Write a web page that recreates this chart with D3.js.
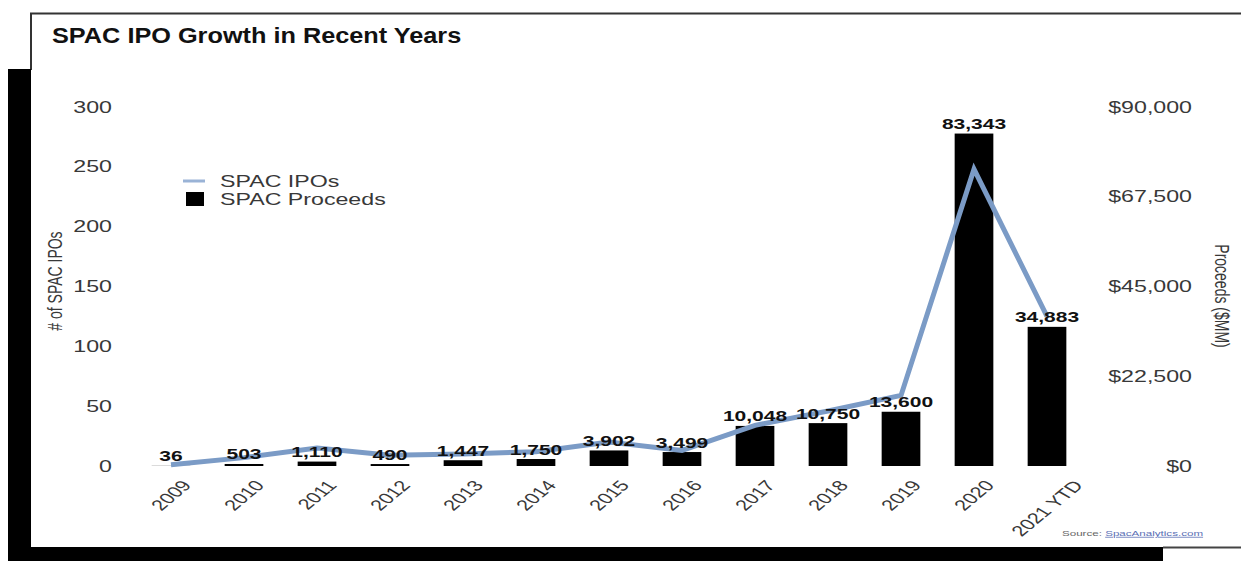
<!DOCTYPE html>
<html>
<head>
<meta charset="utf-8">
<script src="https://cdn.jsdelivr.net/npm/d3@7"></script>
<style>
  html, body { margin: 0; padding: 0; background: #fff; }
  svg { display: block; font-family: "Liberation Sans", Arial, Helvetica, sans-serif; }
</style>
</head>
<body>
<svg id="chart" width="1241" height="561"></svg>
<script>
// ---- data ----
const categories = ["2009","2010","2011","2012","2013","2014","2015","2016","2017","2018","2019","2020","2021 YTD"];
const spacIPOs = [1, 7, 15, 9, 10, 12, 20, 13, 34, 46, 59, 248, 125];
const spacProceeds = [36, 503, 1110, 490, 1447, 1750, 3902, 3499, 10048, 10750, 13600, 83343, 34883];
const leftTicks = [0, 50, 100, 150, 200, 250, 300];
const rightTicks = [0, 22500, 45000, 67500, 90000];
const titleText = "SPAC IPO Growth in Recent Years";
const leftTitle = "# of SPAC IPOs";
const rightTitle = "Proceeds ($MM)";
const legendLabels = ["SPAC IPOs", "SPAC Proceeds"];

// ---- layout ----
const SX = 1.45;          // horizontal text stretch seen in the reference
const svg = d3.select("#chart");
const textColor = "#383838";
const lineColor = "#7b9bc6";

// frame
svg.append("rect").attr("x", 0).attr("y", 0).attr("width", 1241).attr("height", 561).attr("fill", "#fff");
svg.append("path").attr("d", "M31,70 V13.5 H1241").attr("fill", "none").attr("stroke", "#333").attr("stroke-width", 2);
svg.append("rect").attr("x", 8).attr("y", 69).attr("width", 23).attr("height", 492).attr("fill", "#000");
svg.append("rect").attr("x", 8).attr("y", 547).attr("width", 1155).attr("height", 14).attr("fill", "#000");
svg.append("line").attr("x1", 1163).attr("x2", 1241).attr("y1", 547.5).attr("y2", 547.5).attr("stroke", "#444").attr("stroke-width", 2);

// scales
const x = d3.scaleBand().domain(categories).range([134.5, 1083.5]).paddingInner(0.47).paddingOuter(0.235);
const yL = d3.scaleLinear().domain([0, 300]).range([466, 107]);
const yR = d3.scaleLinear().domain([0, 90000]).range([466, 107]);
const bw = x.bandwidth();

// title
svg.append("text")
  .attr("transform", "translate(52,43) scale(1.15,1)")
  .attr("font-size", 22).attr("font-weight", "bold").attr("fill", "#111")
  .text(titleText);

// left axis
const gL = svg.append("g").attr("transform", "translate(112,0)")
  .call(d3.axisLeft(yL).tickValues(leftTicks).tickSize(0).tickPadding(0));
gL.select(".domain").remove();
gL.selectAll("text")
  .attr("x", 0).attr("font-size", 16).attr("fill", textColor).attr("font-family", null)
  .attr("transform", `scale(${SX},1)`);

// right axis
const gR = svg.append("g").attr("transform", "translate(1192,0)")
  .call(d3.axisLeft(yR).tickValues(rightTicks).tickSize(0).tickPadding(0).tickFormat(d => "$" + d3.format(",")(d)));
gR.select(".domain").remove();
gR.selectAll("text")
  .attr("x", 0).attr("font-size", 16).attr("fill", textColor).attr("font-family", null)
  .attr("transform", `scale(${SX},1)`);

// axis titles
svg.append("text")
  .attr("transform", `translate(55,281) scale(${SX},1) rotate(-90)`)
  .attr("text-anchor", "middle").attr("dominant-baseline", "central")
  .attr("font-size", 14).attr("fill", textColor).text(leftTitle);
svg.append("text")
  .attr("transform", `translate(1222,296) scale(${SX},1) rotate(90)`)
  .attr("text-anchor", "middle").attr("dominant-baseline", "central")
  .attr("font-size", 14).attr("fill", textColor).text(rightTitle);

// bars
svg.append("g").selectAll("rect")
  .data(categories.map((c, i) => ({ c, v: spacProceeds[i] })))
  .join("rect")
  .attr("x", d => x(d.c)).attr("width", bw)
  .attr("y", d => yR(d.v)).attr("height", d => yR(0) - yR(d.v))
  .attr("fill", "#000");

// line
const lineData = categories.map((c, i) => ({ c, v: spacIPOs[i] }));
svg.append("path")
  .datum(lineData)
  .attr("fill", "none").attr("stroke", lineColor).attr("stroke-width", 5)
  .attr("stroke-linejoin", "miter")
  .attr("d", d3.line().x(d => x(d.c) + bw / 2).y(d => yL(d.v)));

// bar labels
svg.append("g").selectAll("text")
  .data(categories.map((c, i) => ({ c, v: spacProceeds[i] })))
  .join("text")
  .attr("transform", d => `translate(${x(d.c) + bw / 2},${yR(d.v) - 4.5}) scale(${SX},1)`)
  .attr("text-anchor", "middle").attr("font-size", 14.5).attr("font-weight", "bold").attr("fill", "#111")
  .text(d => d3.format(",")(d.v));

// x axis labels
const gX = svg.append("g").attr("transform", "translate(0,470)")
  .call(d3.axisBottom(x).tickSize(0));
gX.select(".domain").remove();
const y0 = 479 - 470;
const ang = 50 * Math.PI / 180;
const xfs = 15;
gX.selectAll("text")
  .attr("font-size", xfs).attr("fill", textColor).attr("font-family", null)
  .attr("y", 0).attr("dy", null).attr("text-anchor", "middle").attr("dominant-baseline", "central")
  .each(function () {
    const W = this.getComputedTextLength();
    const H = xfs * 0.72;
    const boxH = W * Math.sin(ang) + H * Math.cos(ang);
    d3.select(this).attr("transform", `translate(0,${y0 + boxH / 2}) scale(${SX},1) rotate(-50)`);
  });

// legend
svg.append("line").attr("x1", 183).attr("x2", 205).attr("y1", 181).attr("y2", 181)
  .attr("stroke", "#9ab3d6").attr("stroke-width", 3);
svg.append("rect").attr("x", 186).attr("y", 192).attr("width", 18).attr("height", 14).attr("fill", "#000");
svg.append("g").selectAll("text").data(legendLabels).join("text")
  .attr("transform", (d, i) => `translate(220,${181 + i * 18}) scale(${SX},1)`)
  .attr("dominant-baseline", "central").attr("font-size", 16).attr("fill", textColor)
  .text(d => d);

// source
const src = svg.append("text").attr("transform", `translate(1062,536) scale(${SX},1)`).attr("font-size", 8);
src.append("tspan").attr("fill", "#666").text("Source: ");
src.append("tspan").attr("fill", "#5b6fb5").attr("text-decoration", "underline").text("SpacAnalytics.com");
</script>
</body>
</html>
